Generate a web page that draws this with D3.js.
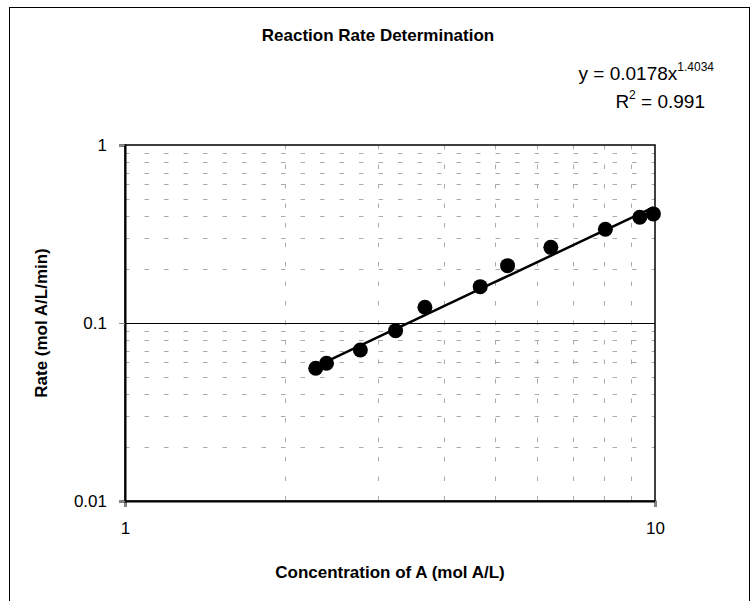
<!DOCTYPE html>
<html>
<head>
<meta charset="utf-8">
<script src="https://cdn.jsdelivr.net/npm/d3@7"></script>
<style>
  body { margin: 0; background: #fff; }
  text { font-family: "Liberation Sans", Arial, sans-serif; fill: #000; }
</style>
</head>
<body>
<div id="svganchor"></div>
<script>
let width = 752;
let height = 601;
let margin = { top: 145, right: 97, bottom: 100, left: 125 };

// data
let concA = [2.29, 2.40, 2.78, 3.24, 3.68, 4.68, 5.27, 6.36, 8.06, 9.36, 9.93];
let rate = [0.0557, 0.0594, 0.0705, 0.0906, 0.1225, 0.160, 0.210, 0.266, 0.336, 0.393, 0.41];
let xTicks = [1, 10];
let yTicks = [0.01, 0.1, 1];
// power trendline y = a * x^b
let fitA = 0.0178;
let fitB = 1.4034;
let fitR2 = 0.991;

let points = concA.map((c, i) => ({ x: c, y: rate[i] }));

let svg = d3.select("#svganchor").append("svg").attr("width", width).attr("height", height);

// outer chart frame
svg.append("rect")
  .attr("x", 9.5).attr("y", 7.5)
  .attr("width", 740).attr("height", 640)
  .attr("fill", "none").attr("stroke", "#000").attr("stroke-width", 1);

let xScale = d3.scaleLog().domain([1, 10]).range([margin.left, width - margin.right]);
let yScale = d3.scaleLog().domain([0.01, 1]).range([height - margin.bottom, margin.top]);

let x0 = xScale.range()[0], x1 = xScale.range()[1];
let yTop = yScale.range()[1], yBot = yScale.range()[0];

// minor gridlines (2..9 of each decade)
let minorX = [];
for (let k = 2; k <= 9; k++) minorX.push(k);
let minorY = [];
[0.01, 0.1].forEach(d => { for (let k = 2; k <= 9; k++) minorY.push(d * k); });

svg.append("g").selectAll("line")
  .data(minorY)
  .enter().append("line")
  .attr("x1", x0).attr("x2", x1)
  .attr("y1", d => Math.round(yScale(d)) + 0.5)
  .attr("y2", d => Math.round(yScale(d)) + 0.5)
  .attr("stroke", "#aaa").attr("stroke-width", 1)
  .attr("stroke-dasharray", "4.5,15");

svg.append("g").selectAll("line")
  .data(minorX)
  .enter().append("line")
  .attr("y1", yTop).attr("y2", yBot)
  .attr("x1", d => Math.round(xScale(d)) + 0.5)
  .attr("x2", d => Math.round(xScale(d)) + 0.5)
  .attr("stroke", "#aaa").attr("stroke-width", 1)
  .attr("stroke-dasharray", "4.5,15");

// major gridline at 0.1
svg.append("line")
  .attr("x1", x0).attr("x2", x1)
  .attr("y1", Math.round(yScale(0.1)) + 0.5).attr("y2", Math.round(yScale(0.1)) + 0.5)
  .attr("stroke", "#000").attr("stroke-width", 1);

// plot area border
svg.append("rect")
  .attr("x", x0).attr("y", yTop)
  .attr("width", x1 - x0).attr("height", yBot - yTop)
  .attr("fill", "none").attr("stroke", "#000").attr("stroke-width", 1.5);

// axes
let xAxis = d3.axisBottom(xScale).tickValues(xTicks).tickFormat(d3.format("d")).tickSize(6).tickPadding(15);
let yAxis = d3.axisLeft(yScale).tickValues(yTicks).tickFormat(d => String(d)).tickSize(6).tickPadding(12);

let gx = svg.append("g").attr("transform", "translate(0," + yBot + ")").call(xAxis);
let gy = svg.append("g").attr("transform", "translate(" + x0 + ",0)").call(yAxis);
[gx, gy].forEach(g => {
  g.select(".domain").attr("stroke", "#000").attr("stroke-width", 2);
  g.selectAll(".tick line").attr("stroke", "#888");
  g.selectAll(".tick text").attr("font-size", 17).attr("font-family", "Liberation Sans, Arial, sans-serif").attr("fill", "#000");
});

// trendline
let trend = d3.range(0, 41).map(i => {
  let lx = Math.log10(d3.min(concA)) + (Math.log10(d3.max(concA)) - Math.log10(d3.min(concA))) * i / 40;
  let xv = Math.pow(10, lx);
  return { x: xv, y: fitA * Math.pow(xv, fitB) };
});
svg.append("path")
  .datum(trend)
  .attr("fill", "none").attr("stroke", "#000").attr("stroke-width", 2.5)
  .attr("d", d3.line().x(d => xScale(d.x)).y(d => yScale(d.y)));

// data points
svg.append("g").selectAll("circle")
  .data(points)
  .enter().append("circle")
  .attr("cx", d => xScale(d.x))
  .attr("cy", d => yScale(d.y))
  .attr("r", 7.5)
  .attr("fill", "#000");

// title
svg.append("text")
  .attr("x", 378).attr("y", 41)
  .attr("text-anchor", "middle")
  .attr("font-size", 17).attr("font-weight", "bold")
  .text("Reaction Rate Determination");

// equation
let eq = svg.append("text")
  .attr("x", 714).attr("y", 80)
  .attr("text-anchor", "end")
  .attr("font-size", 19);
eq.append("tspan").text("y = " + fitA + "x");
eq.append("tspan").attr("dy", -9).attr("font-size", 12).text(fitB);

let r2 = svg.append("text")
  .attr("x", 705).attr("y", 108)
  .attr("text-anchor", "end")
  .attr("font-size", 19);
r2.append("tspan").text("R");
r2.append("tspan").attr("dy", -9).attr("font-size", 12).text("2");
r2.append("tspan").attr("dy", 9).text(" = " + fitR2);

// axis titles
svg.append("text")
  .attr("x", (x0 + x1) / 2).attr("y", 578)
  .attr("text-anchor", "middle")
  .attr("font-size", 17).attr("font-weight", "bold")
  .text("Concentration of A (mol A/L)");

svg.append("text")
  .attr("transform", "translate(47," + ((yTop + yBot) / 2) + ") rotate(-90)")
  .attr("text-anchor", "middle")
  .attr("font-size", 17).attr("font-weight", "bold")
  .text("Rate (mol A/L/min)");
</script>
</body>
</html>
